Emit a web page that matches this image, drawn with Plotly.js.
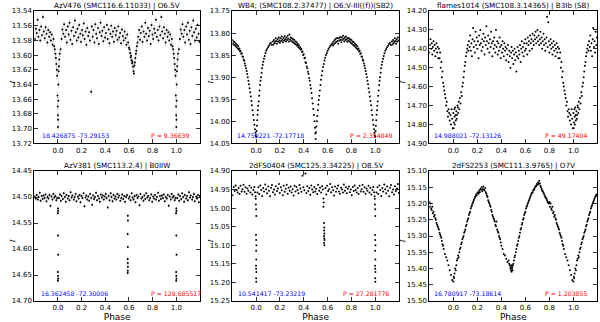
<!DOCTYPE html>
<html>
<head>
<meta charset="utf-8">
<script src="https://cdn.plot.ly/plotly-3.0.1.min.js"></script>
<style>
  html, body { margin: 0; padding: 0; background: #fff; }
  #plot { width: 600px; height: 322px; }
</style>
</head>
<body>
<div id="plot"></div>
<script>
// AzV476 light curve (phase, I mag)
var azv476Phase = [
  0.022,0.03,0.037,0.045,0.052,0.06,0.068,0.075,0.083,0.09,
  0.098,0.105,0.113,0.12,0.128,0.135,0.143,0.15,0.158,0.165,
  0.173,0.18,0.188,0.195,0.203,0.21,0.218,0.225,0.233,0.24,
  0.248,0.255,0.263,0.27,0.285,0.293,0.3,0.308,0.315,0.323,
  0.33,0.338,0.345,0.353,0.36,0.368,0.375,0.383,0.39,0.398,
  0.405,0.413,0.42,0.428,0.435,0.443,0.45,0.458,0.465,0.473,
  0.48,0.488,0.495,0.503,0.51,0.518,0.525,0.533,0.54,0.548,
  0.555,0.563,0.57,0.578,0.585,0.593,0.6,
  0.605,0.61,0.614,0.618,0.622,0.626,0.63,0.634,0.638,0.642,0.646,0.65,0.654,0.658,0.662,0.667,0.672,
  0.678,0.685,0.693,0.7,0.708,0.715,0.723,0.73,0.738,0.745,
  0.753,0.76,0.768,0.775,0.783,0.79,0.798,0.805,0.813,0.82,
  0.828,0.835,0.843,0.85,0.858,0.865,0.873,0.88,0.888,0.895,
  0.903,0.91,0.918,0.925,0.933,0.94,0.948,0.955,0.962,0.968,
  0.973,0.978,0.982,0.986,0.99,0.993,0.996,0.998,0.999,0.0,0.001,0.002,0.003,0.005,0.008,0.011,0.015,
  0.28
];
var azv476Mag = [
  13.592,13.578,13.565,13.571,13.558,13.575,13.566,13.583,13.561,13.572,
  13.556,13.579,13.567,13.585,13.562,13.574,13.553,13.569,13.58,13.564,
  13.576,13.559,13.571,13.582,13.566,13.573,13.557,13.578,13.568,13.586,
  13.563,13.574,13.569,13.58,13.561,13.575,13.566,13.583,13.558,13.571,
  13.577,13.563,13.585,13.569,13.556,13.574,13.567,13.581,13.562,13.576,
  13.57,13.559,13.578,13.565,13.584,13.571,13.56,13.575,13.568,13.582,
  13.563,13.573,13.567,13.579,13.561,13.576,13.57,13.584,13.565,13.574,
  13.58,13.568,13.577,13.586,13.572,13.583,13.59,
  13.592,13.597,13.603,13.601,13.607,13.611,13.609,13.616,13.622,13.625,13.614,13.61,13.604,13.598,13.594,13.588,13.583,
  13.575,13.566,13.579,13.57,13.561,13.582,13.568,13.575,13.556,13.571,
  13.58,13.563,13.574,13.567,13.585,13.559,13.572,13.578,13.564,13.57,
  13.552,13.575,13.566,13.58,13.561,13.573,13.548,13.568,13.577,13.562,
  13.571,13.583,13.566,13.575,13.569,13.58,13.572,13.586,13.578,13.588,
  13.592,13.598,13.604,13.612,13.62,13.628,13.655,13.67,13.682,13.698,13.688,13.662,13.64,13.622,13.615,13.606,13.598,
  13.65
];

// WB4
var wb4Phase = [
  0.0,0.003,0.006,0.009,0.012,0.015,0.018,0.021,0.025,0.029,0.033,0.037,0.041,0.046,0.05,0.055,0.06,0.066,0.072,0.078,0.085,0.092,0.1,0.108,0.116,0.124,0.132,
  0.14,0.145,0.15,0.155,0.16,0.165,0.17,0.175,0.18,0.185,0.19,0.195,0.2,0.205,0.21,0.215,0.22,0.225,0.23,0.235,0.24,0.245,0.25,0.255,0.26,0.265,0.27,0.275,0.28,0.285,0.29,0.295,0.3,0.305,0.31,0.315,0.32,0.325,0.33,0.335,0.34,0.345,0.35,0.355,0.36,
  0.365,0.37,0.375,0.38,0.385,0.39,0.395,0.4,0.405,0.41,0.415,0.42,0.425,0.43,0.435,0.44,0.445,0.45,0.455,0.46,0.465,0.47,0.475,0.48,0.485,0.49,0.494,0.497,0.5,
  0.503,0.506,0.51,0.514,0.518,0.522,0.526,0.53,0.535,0.54,0.545,0.55,0.556,0.562,0.568,0.574,0.58,0.587,0.594,0.6,0.608,0.616,0.624,0.632,0.64,
  0.645,0.65,0.655,0.66,0.665,0.67,0.675,0.68,0.685,0.69,0.695,0.7,0.705,0.71,0.715,0.72,0.725,0.73,0.735,0.74,0.745,0.75,0.755,0.76,0.765,0.77,0.775,0.78,0.785,0.79,0.795,0.8,0.805,0.81,0.815,0.82,0.825,0.83,0.835,0.84,0.845,0.85,
  0.855,0.86,0.865,0.87,0.875,0.88,0.885,0.89,0.895,0.9,0.905,0.91,0.915,0.92,0.925,0.93,0.935,0.94,0.945,0.95,0.955,0.96,0.965,0.97,0.975,0.98,0.985,0.99,0.994,0.997
];
var wb4Mag = [
  14.035,14.022,14.01,13.998,13.985,13.975,13.965,13.955,13.942,13.93,13.918,13.908,13.9,13.89,13.88,13.872,13.865,13.858,13.852,13.846,13.84,13.836,13.832,13.829,13.825,13.822,13.827,
  13.819,13.826,13.816,13.823,13.82,13.812,13.818,13.824,13.814,13.82,13.81,13.817,13.822,13.812,13.818,13.808,13.815,13.821,13.811,13.817,13.807,13.814,13.819,13.81,13.816,13.806,13.813,13.819,13.803,13.815,13.81,13.818,13.812,13.82,13.814,13.822,13.816,13.824,13.819,13.826,13.821,13.829,13.825,13.832,13.828,
  13.835,13.832,13.838,13.836,13.843,13.842,13.85,13.848,13.857,13.856,13.866,13.868,13.876,13.88,13.888,13.893,13.902,13.908,13.918,13.926,13.936,13.948,13.96,13.972,13.986,14.0,14.015,14.028,14.04,
  14.025,14.012,14.0,13.988,13.975,13.962,13.952,13.942,13.93,13.918,13.906,13.896,13.886,13.877,13.87,13.862,13.856,13.85,13.845,13.84,13.836,13.832,13.829,13.826,13.823,
  13.828,13.819,13.825,13.816,13.822,13.813,13.82,13.811,13.818,13.824,13.812,13.817,13.809,13.815,13.821,13.81,13.816,13.806,13.813,13.819,13.81,13.816,13.808,13.814,13.82,13.811,13.817,13.812,13.819,13.814,13.822,13.816,13.824,13.819,13.827,13.821,13.829,13.824,13.832,13.827,13.835,13.83,
  13.838,13.835,13.842,13.84,13.847,13.846,13.853,13.854,13.86,13.863,13.869,13.874,13.88,13.886,13.893,13.9,13.908,13.916,13.925,13.934,13.944,13.954,13.964,13.975,13.986,13.997,14.008,14.018,14.026,14.032
];

// flames1014
var flames1014Phase = [
  0.0,0.002,0.005,0.008,0.01,0.012,0.015,0.018,0.02,0.025,0.028,0.03,0.035,0.038,0.04,0.045,0.05,0.055,0.06,0.065,0.07,0.075,0.08,0.085,0.09,0.095,0.1,0.105,0.11,0.115,0.12,0.125,0.13,0.135,
  0.14,0.145,0.15,0.155,0.16,0.165,0.17,0.175,0.18,0.185,0.19,0.195,0.2,0.205,0.21,0.215,0.22,0.225,0.23,0.235,0.24,0.245,0.25,0.255,0.26,0.265,0.27,0.275,0.28,0.285,0.29,0.295,
  0.3,0.305,0.31,0.315,0.32,0.325,0.33,0.335,0.34,0.345,0.35,0.355,0.36,0.365,0.37,0.375,0.38,0.385,0.39,0.395,0.4,0.405,0.41,0.415,0.42,0.425,0.43,0.435,0.44,0.445,
  0.45,0.455,0.46,0.465,0.47,0.475,0.48,0.485,0.49,0.495,0.5,0.505,0.51,0.515,0.52,0.525,0.53,0.535,0.54,0.545,0.55,0.555,0.56,0.565,0.57,0.575,0.58,0.585,0.59,0.595,
  0.6,0.605,0.61,0.615,0.62,0.625,0.63,0.635,0.64,0.645,0.65,0.655,0.66,0.665,0.67,0.675,0.68,0.685,0.69,0.695,0.7,0.705,0.71,0.715,0.72,0.725,0.73,0.735,0.74,0.745,
  0.75,0.755,0.76,0.765,0.77,0.775,0.78,0.785,0.79,0.795,0.8,0.805,0.81,0.815,0.82,0.825,0.83,0.835,0.84,0.845,0.85,0.855,0.86,0.865,0.87,0.875,
  0.88,0.885,0.89,0.895,0.9,0.905,0.91,0.915,0.92,0.925,0.93,0.935,0.94,0.945,0.95,0.955,0.96,0.965,0.97,0.975,0.98,0.985,0.99,0.995
];
var flames1014Mag = [
  14.74,14.82,14.79,14.72,14.76,14.8,14.71,14.75,14.78,14.73,14.77,14.75,14.7,14.71,14.74,14.68,14.72,14.66,14.69,14.63,14.65,14.6,14.58,14.55,14.52,14.49,14.47,14.44,14.42,14.4,14.38,14.41,14.36,14.39,
  14.33,14.41,14.37,14.44,14.35,14.29,14.39,14.36,14.42,14.31,14.38,14.34,14.4,14.36,14.45,14.33,14.38,14.3,14.37,14.41,14.35,14.39,14.32,14.36,14.43,14.34,14.38,14.28,14.36,14.4,14.33,14.37,
  14.42,14.35,14.39,14.31,14.37,14.44,14.36,14.4,14.34,14.38,14.42,14.3,14.39,14.36,14.43,14.37,14.41,14.34,14.39,14.45,14.38,14.42,14.36,14.4,14.44,14.37,14.41,14.39,14.46,14.4,
  14.43,14.38,14.47,14.41,14.44,14.5,14.42,14.39,14.45,14.41,14.48,14.43,14.4,14.46,14.42,14.52,14.44,14.39,14.45,14.41,14.43,14.38,14.47,14.4,14.36,14.42,14.39,14.44,14.37,14.41,
  14.35,14.4,14.37,14.43,14.34,14.38,14.36,14.41,14.33,14.37,14.35,14.4,14.32,14.36,14.38,14.33,14.35,14.31,14.37,14.34,14.3,14.36,14.33,14.38,14.35,14.31,14.37,14.34,14.4,14.36,
  14.32,14.38,14.35,14.41,14.37,14.34,14.23,14.39,14.26,14.36,14.42,14.38,14.35,14.4,14.37,14.43,14.39,14.36,14.41,14.38,14.44,14.4,14.37,14.42,14.39,14.45,
  14.4,14.45,14.42,14.5,14.47,14.55,14.52,14.58,14.6,14.62,14.64,14.66,14.7,14.68,14.73,14.76,14.72,14.74,14.78,14.75,14.8,14.72,14.77,14.82
];

// AzV381
var azv381Phase = [
  0.008,0.017,0.024,0.031,0.042,0.049,0.058,0.066,0.071,0.083,
  0.091,0.098,0.107,0.115,0.122,0.134,0.141,0.149,0.156,0.168,
  0.175,0.183,0.19,0.199,0.207,0.216,0.224,0.233,0.239,0.248,
  0.257,0.264,0.272,0.281,0.289,0.297,0.305,0.313,0.322,0.33,
  0.338,0.347,0.354,0.362,0.371,0.379,0.387,0.395,0.404,0.411,
  0.42,0.428,0.436,0.445,0.452,0.461,0.469,0.477,0.486,0.493,
  0.502,0.51,0.518,0.527,0.535,0.543,0.551,0.56,0.567,0.576,
  0.584,0.598,0.606,0.614,0.623,0.631,0.639,0.648,0.655,0.664,
  0.672,0.68,0.689,0.697,0.705,0.713,0.722,0.73,0.738,0.746,
  0.755,0.763,0.771,0.779,0.788,0.796,0.804,0.812,0.821,0.829,
  0.837,0.846,0.853,0.862,0.87,0.878,0.887,0.895,0.903,0.911,
  0.92,0.928,0.936,0.945,0.953,0.961,0.969,0.978,0.986,0.993,
  0.0,0.001,0.0,0.002,0.999,0.0,0.001,0.999,0.998,
  0.59,0.591,0.589,0.59,0.589,0.59,0.591,0.59,0.589
];
var azv381Mag = [
  14.502,14.495,14.507,14.498,14.504,14.493,14.5,14.509,14.496,14.503,
  14.498,14.506,14.491,14.501,14.497,14.505,14.5,14.494,14.508,14.499,
  14.503,14.496,14.51,14.498,14.502,14.493,14.518,14.501,14.497,14.505,
  14.499,14.507,14.494,14.502,14.515,14.497,14.504,14.5,14.492,14.506,
  14.498,14.503,14.509,14.495,14.501,14.497,14.505,14.499,14.494,14.502,
  14.52,14.498,14.506,14.493,14.5,14.508,14.496,14.503,14.499,14.505,
  14.494,14.501,14.497,14.507,14.502,14.495,14.504,14.498,14.509,14.5,
  14.496,14.503,14.499,14.506,14.493,14.501,14.505,14.498,14.51,14.496,
  14.502,14.499,14.516,14.494,14.503,14.5,14.507,14.497,14.504,14.493,
  14.501,14.498,14.506,14.502,14.495,14.509,14.499,14.503,14.496,14.505,
  14.5,14.492,14.507,14.498,14.504,14.497,14.502,14.495,14.508,14.5,
  14.503,14.496,14.517,14.499,14.505,14.494,14.501,14.498,14.506,14.502,
  14.522,14.527,14.574,14.611,14.644,14.652,14.657,14.661,14.531,
  14.536,14.545,14.571,14.596,14.619,14.627,14.634,14.642,14.646
];

// 2dFS0404
var fs0404Phase = [
  0.011,0.019,0.026,0.035,0.043,0.051,0.06,0.067,0.076,0.084,
  0.092,0.101,0.108,0.117,0.125,0.133,0.142,0.15,0.158,0.166,
  0.174,0.183,0.191,0.199,0.208,0.215,0.224,0.232,0.24,0.249,
  0.257,0.265,0.273,0.282,0.29,0.298,0.306,0.315,0.323,0.331,
  0.339,0.348,0.356,0.364,0.372,0.381,0.389,0.397,0.405,0.414,
  0.422,0.43,0.438,0.447,0.455,0.463,0.471,0.48,0.488,0.496,
  0.504,0.513,0.521,0.529,0.537,0.546,0.554,0.561,0.582,0.589,
  0.597,0.605,0.614,0.622,0.63,0.638,0.647,0.655,0.663,0.671,
  0.68,0.688,0.696,0.704,0.713,0.721,0.729,0.737,0.746,0.754,
  0.762,0.77,0.779,0.787,0.795,0.803,0.812,0.82,0.828,0.836,
  0.845,0.853,0.861,0.869,0.878,0.886,0.894,0.902,0.911,0.919,
  0.927,0.935,0.944,0.952,0.96,0.968,0.977,0.985,0.991,0.995,
  0.997,0.998,0.0,0.001,0.999,0.0,0.002,0.0,0.001,0.999,0.0,0.002,0.0,0.001,
  0.566,0.568,0.565,0.57,0.572,0.571,0.573,0.57,0.572,0.574,0.571,0.573
];
var fs0404Mag = [
  14.958,14.944,14.962,14.939,14.951,14.967,14.946,14.955,14.936,14.949,
  14.96,14.942,14.953,14.968,14.945,14.938,14.957,14.95,14.963,14.941,
  14.954,14.947,14.935,14.959,14.944,14.952,14.965,14.94,14.956,14.948,
  14.937,14.961,14.945,14.953,14.942,14.958,14.949,14.966,14.94,14.955,
  14.943,14.951,14.96,14.938,14.947,14.956,14.913,14.944,14.952,14.907,
  14.959,14.941,14.954,14.946,14.964,14.939,14.95,14.957,14.943,14.955,
  14.948,14.962,14.937,14.953,14.945,14.958,14.941,14.95,14.946,14.963,
  14.94,14.954,14.949,14.935,14.957,14.944,14.952,14.966,14.942,14.956,
  14.947,14.939,14.955,14.961,14.945,14.95,14.958,14.936,14.953,14.944,
  14.96,14.948,14.942,14.957,14.95,14.965,14.943,14.954,14.939,14.951,
  14.958,14.946,14.962,14.94,14.955,14.949,14.937,14.956,14.944,14.961,
  14.947,14.953,14.94,14.958,14.945,14.963,14.951,14.943,14.957,14.968,
  14.975,14.99,15.003,15.021,15.072,15.086,15.1,15.115,15.138,15.155,15.163,15.172,15.189,15.198,
  14.974,14.985,14.996,15.04,15.052,15.06,15.068,15.075,15.081,15.086,15.094,15.1
];

// 2dFS2253
var fs2253Phase = [
  0.0,0.003,0.006,0.01,0.015,0.02,0.025,0.03,0.035,0.04,0.045,0.05,0.055,0.06,0.065,0.07,0.075,0.08,0.085,0.09,0.095,
  0.1,0.105,0.11,0.115,0.12,0.125,0.13,0.135,0.14,0.145,0.15,0.155,0.16,0.165,0.17,0.175,0.18,0.185,0.19,0.195,
  0.2,0.205,0.21,0.215,0.22,0.225,0.23,0.235,0.24,0.245,0.25,0.255,0.26,0.265,0.27,0.275,0.28,0.285,0.29,0.295,
  0.3,0.305,0.31,0.315,0.32,0.325,0.33,0.335,0.34,0.345,0.35,0.355,0.36,0.365,0.37,0.375,0.38,0.385,0.39,0.395,
  0.4,0.41,0.42,0.43,0.44,0.45,0.46,0.465,0.47,0.475,0.478,0.48,0.483,0.485,0.488,0.49,0.493,0.495,
  0.5,0.505,0.51,0.515,0.52,0.525,0.53,0.535,0.54,0.545,0.55,0.555,0.56,0.565,0.57,0.575,0.58,0.585,0.59,0.595,
  0.6,0.605,0.61,0.615,0.62,0.625,0.63,0.635,0.64,0.645,0.65,0.655,0.66,0.665,0.67,0.675,0.68,0.685,0.69,0.695,
  0.7,0.705,0.71,0.715,0.72,0.725,0.73,0.735,0.74,0.745,0.75,0.755,0.76,0.765,0.77,0.775,0.78,0.785,0.79,0.795,
  0.8,0.805,0.81,0.815,0.82,0.825,0.83,0.835,0.84,0.845,0.85,0.855,0.86,0.865,0.87,0.875,0.88,0.885,0.89,0.895,
  0.9,0.905,0.91,0.915,0.92,0.93,0.94,0.95,0.96,0.97,0.98,0.99
];
var fs2253Mag = [
  15.44,15.425,15.43,15.415,15.4,15.405,15.39,15.375,15.37,15.36,15.365,15.35,15.34,15.335,15.325,15.32,15.31,15.305,15.3,15.29,15.285,
  15.28,15.27,15.265,15.255,15.25,15.245,15.235,15.23,15.225,15.215,15.21,15.205,15.2,15.195,15.19,15.185,15.18,15.178,15.172,15.175,
  15.168,15.165,15.17,15.16,15.165,15.155,15.158,15.15,15.162,15.155,15.148,15.158,15.16,15.152,15.165,15.17,15.175,15.18,15.19,15.195,
  15.2,15.205,15.21,15.22,15.225,15.235,15.24,15.245,15.25,15.255,15.265,15.27,15.255,15.28,15.285,15.29,15.3,15.305,15.31,15.32,
  15.33,15.34,15.355,15.36,15.37,15.38,15.375,15.385,15.39,15.4,15.395,15.405,15.39,15.41,15.4,15.395,15.405,15.39,
  15.385,15.375,15.365,15.36,15.35,15.34,15.33,15.325,15.315,15.305,15.3,15.29,15.28,15.275,15.265,15.26,15.25,15.245,15.235,15.23,
  15.225,15.215,15.21,15.205,15.2,15.195,15.19,15.185,15.18,15.175,15.17,15.168,15.165,15.16,15.158,15.155,15.15,15.148,15.145,15.14,
  15.142,15.135,15.14,15.13,15.138,15.145,15.15,15.155,15.16,15.162,15.168,15.17,15.175,15.18,15.182,15.185,15.19,15.195,15.198,15.2,
  15.195,15.21,15.2,15.215,15.22,15.21,15.23,15.225,15.24,15.235,15.245,15.25,15.26,15.265,15.27,15.275,15.28,15.29,15.295,15.3,
  15.305,15.315,15.325,15.33,15.34,15.355,15.365,15.375,15.39,15.405,15.42,15.435
];

var titles = [
  'AzV476 (SMC116.6.11033) | O6.5V',
  'WB4; (SMC108.2.37477) | O6:V-III((f))(SB2)',
  'flames1014 (SMC108.3.14365) | B3Ib (SB)',
  'AzV381 (SMC113.2.4) | B0IIW',
  '2dFS0404 (SMC125.3.34225) | O8.5V',
  '2dFS2253 (SMC111.3.9765) | O7V'
];
var coords = ['18.426875 -73.29153', '14.750221 -72.17718', '14.988021 -72.13126',
              '16.362458 -72.30006', '10.541417 -73.23219', '16.780917 -73.18614'];
var periods = ['9.36639', '2.354849', '49.17404', '128.685517', '27.281776', '1.203855'];
var yRanges = [[13.72, 13.54], [14.05, 13.75], [14.90, 14.20], [14.70, 14.45], [15.25, 14.90], [15.50, 15.10]];
var yDticks = [0.02, 0.05, 0.1, 0.05, 0.05, 0.05];
var phaseTicks = [0, 0.2, 0.4, 0.6, 0.8, 1.0];

var phases = [azv476Phase, wb4Phase, flames1014Phase, azv381Phase, fs0404Phase, fs2253Phase];
var mags = [azv476Mag, wb4Mag, flames1014Mag, azv381Mag, fs0404Mag, fs2253Mag];
var errs = [0.005, 0, 0, 0.004, 0, 0];

// fold: repeat the ends of the cycle so the plot runs -0.2 .. 1.2
function fold(ph, mg) {
  var x = [], y = [];
  for (var i = 0; i < ph.length; i++) {
    x.push(ph[i]); y.push(mg[i]);
    if (ph[i] >= 0.8) { x.push(ph[i] - 1); y.push(mg[i]); }
    if (ph[i] < 0.2) { x.push(ph[i] + 1); y.push(mg[i]); }
  }
  return {x: x, y: y};
}

var colDomains = [[0.0572, 0.3333], [0.3872, 0.665], [0.7155, 0.9958]];
var rowDomains = [[0.555, 0.9658], [0.0652, 0.4689]];
var font = 'DejaVu Sans';

var data = [];
var layout = {
  width: 600, height: 322,
  margin: {l: 0, r: 0, t: 0, b: 0},
  paper_bgcolor: '#fff', plot_bgcolor: '#fff',
  showlegend: false,
  font: {family: font, size: 7, color: '#000'},
  annotations: []
};

for (var i = 0; i < 6; i++) {
  var n = i + 1;
  var s = n === 1 ? '' : String(n);
  var col = i % 3, row = Math.floor(i / 3);
  var f = fold(phases[i], mags[i]);
  var trace = {
    x: f.x, y: f.y, type: 'scatter', mode: 'markers',
    xaxis: 'x' + s, yaxis: 'y' + s,
    marker: {color: '#000', size: 2},
    hoverinfo: 'none'
  };
  if (errs[i] > 0) {
    trace.error_y = {type: 'constant', value: errs[i], color: '#b8b8b8', thickness: 0.6, width: 0};
  }
  data.push(trace);

  layout['xaxis' + s] = {
    domain: colDomains[col], anchor: 'y' + s,
    range: [-0.2, 1.2], tickmode: 'array', tickvals: phaseTicks, tickformat: '.1f',
    ticks: 'inside', ticklen: 4, tickwidth: 0.8, tickcolor: '#000',
    showline: true, mirror: 'ticks', linecolor: '#000', linewidth: 1,
    showgrid: false, zeroline: false,
    tickfont: {family: font, size: 7},
    title: row === 1 ? {text: 'Phase', font: {family: font, size: 9}, standoff: 1} : {text: ''}
  };
  layout['yaxis' + s] = {
    domain: rowDomains[row], anchor: 'x' + s,
    range: yRanges[i], tick0: 0, dtick: yDticks[i], tickformat: '.2f',
    ticks: 'inside', ticklen: 4, tickwidth: 0.8, tickcolor: '#000',
    showline: true, mirror: 'ticks', linecolor: '#000', linewidth: 1,
    showgrid: false, zeroline: false,
    tickfont: {family: font, size: 7}
  };

  var xd = 'x' + s + ' domain', yd = 'y' + s + ' domain';
  layout.annotations.push(
    {xref: xd, yref: yd, x: 0.5, y: 1, xanchor: 'center', yanchor: 'bottom', yshift: -1,
     text: titles[i], showarrow: false, font: {family: font, size: 7.2, color: '#000'}},
    {xref: xd, yref: yd, x: [0.032, 0.018, 0.016, 0.03, 0.022, 0.016][i], y: 0.015,
     xanchor: 'left', yanchor: 'bottom',
     text: coords[i], showarrow: false, font: {family: font, size: 6.2, color: '#0000ff'}},
    {xref: xd, yref: yd, x: [0.693, 0.693, 0.675, 0.693, 0.655, 0.675][i], y: 0.015,
     xanchor: 'left', yanchor: 'bottom',
     text: 'P = ' + periods[i], showarrow: false, font: {family: font, size: 6.2, color: '#ff0000'}},
    {xref: xd, yref: yd, x: 0, y: 0.46, xshift: col === 2 ? -27 : -22,
     xanchor: 'center', yanchor: 'middle', textangle: -90,
     text: '<i>I</i>', showarrow: false, font: {family: 'DejaVu Serif', size: 8, color: '#000'}}
  );
}

Plotly.newPlot('plot', data, layout, {staticPlot: true});
</script>
</body>
</html>
